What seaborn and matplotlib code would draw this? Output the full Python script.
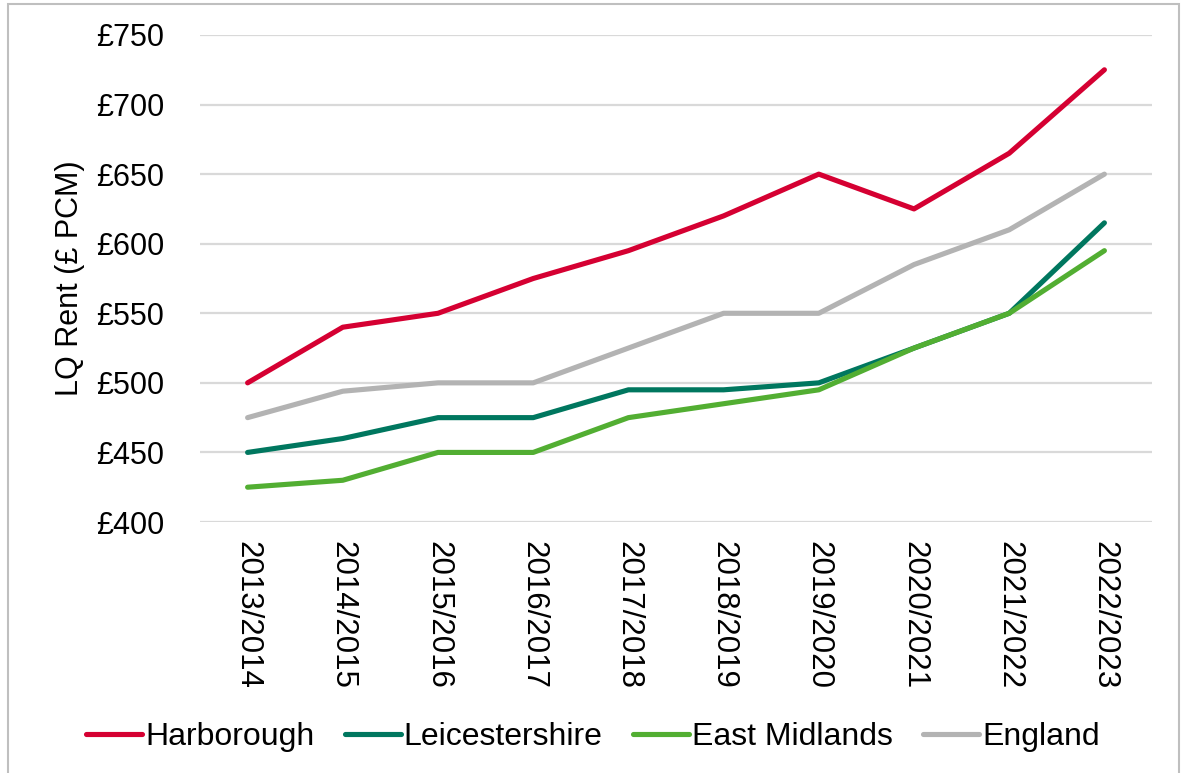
import matplotlib
matplotlib.use("Agg")
import matplotlib.pyplot as plt
from matplotlib.patches import Rectangle
import seaborn as sns
import pandas as pd

years = ["2013/2014", "2014/2015", "2015/2016", "2016/2017", "2017/2018",
         "2018/2019", "2019/2020", "2020/2021", "2021/2022", "2022/2023"]
harborough = [500, 540, 550, 575, 595, 620, 650, 625, 665, 725]
leicestershire = [450, 460, 475, 475, 495, 495, 500, 525, 550, 615]
east_midlands = [425, 430, 450, 450, 475, 485, 495, 525, 550, 595]
england = [475, 494, 500, 500, 525, 550, 550, 585, 610, 650]

series_names = ["Harborough", "Leicestershire", "East Midlands", "England"]
series_values = [harborough, leicestershire, east_midlands, england]
colors = ["#D50032", "#00775F", "#52AE32", "#B3B3B3"]
y_ticks = [400, 450, 500, 550, 600, 650, 700, 750]

df = pd.DataFrame(
    [(name, i, v) for name, vals in zip(series_names, series_values)
     for i, v in enumerate(vals)],
    columns=["Area", "Year", "Rent"],
)

sns.set_theme(style="white")
plt.rcParams["font.family"] = ["Liberation Sans", "DejaVu Sans"]
plt.rcParams["text.color"] = "black"
plt.rcParams["axes.labelcolor"] = "black"
plt.rcParams["xtick.color"] = "black"
plt.rcParams["ytick.color"] = "black"

fig = plt.figure(figsize=(11.86, 7.73), dpi=100)
ax = fig.add_axes([200 / 1186, 1 - 522 / 773, 952 / 1186, 487 / 773])

sns.lineplot(data=df, x="Year", y="Rent", hue="Area", hue_order=series_names,
             palette=colors, linewidth=3.7, ax=ax, sort=False,
             solid_capstyle="round", legend=True)

ax.set_xlim(-0.5, len(years) - 0.5)
ax.set_ylim(400, 750)
ax.set_yticks(y_ticks)
ax.set_yticklabels([f"£{v}" for v in y_ticks], fontsize=22)
ax.set_xticks(range(len(years)))
ax.set_xticklabels(years, rotation=-90, fontsize=22.5, va="top", ha="center")
ax.tick_params(axis="x", pad=14, length=0)
ax.tick_params(axis="y", pad=26, length=0)
ax.set_xlabel("")
ax.set_ylabel("LQ Rent (£ PCM)", fontsize=22, labelpad=8)

ax.yaxis.grid(True, color="#D9D9D9", linewidth=1.6)
ax.xaxis.grid(False)
ax.set_axisbelow(True)
for s in ax.spines.values():
    s.set_visible(False)

handles, labels = ax.get_legend_handles_labels()
ax.legend(handles, labels, loc="center", bbox_to_anchor=(0.5, (773 - 737) / 773),
          bbox_transform=fig.transFigure, ncol=4, frameon=False, fontsize=23,
          handlelength=1.75, handletextpad=0.1, columnspacing=0.95)

fig.patches.append(Rectangle((8 / 1186, -0.05), (1179 - 8) / 1186, 1.05 - 4 / 773,
                             transform=fig.transFigure, fill=False,
                             edgecolor="#BFBFBF", linewidth=1.5, zorder=-1))

fig.savefig("out.png", dpi=100)
